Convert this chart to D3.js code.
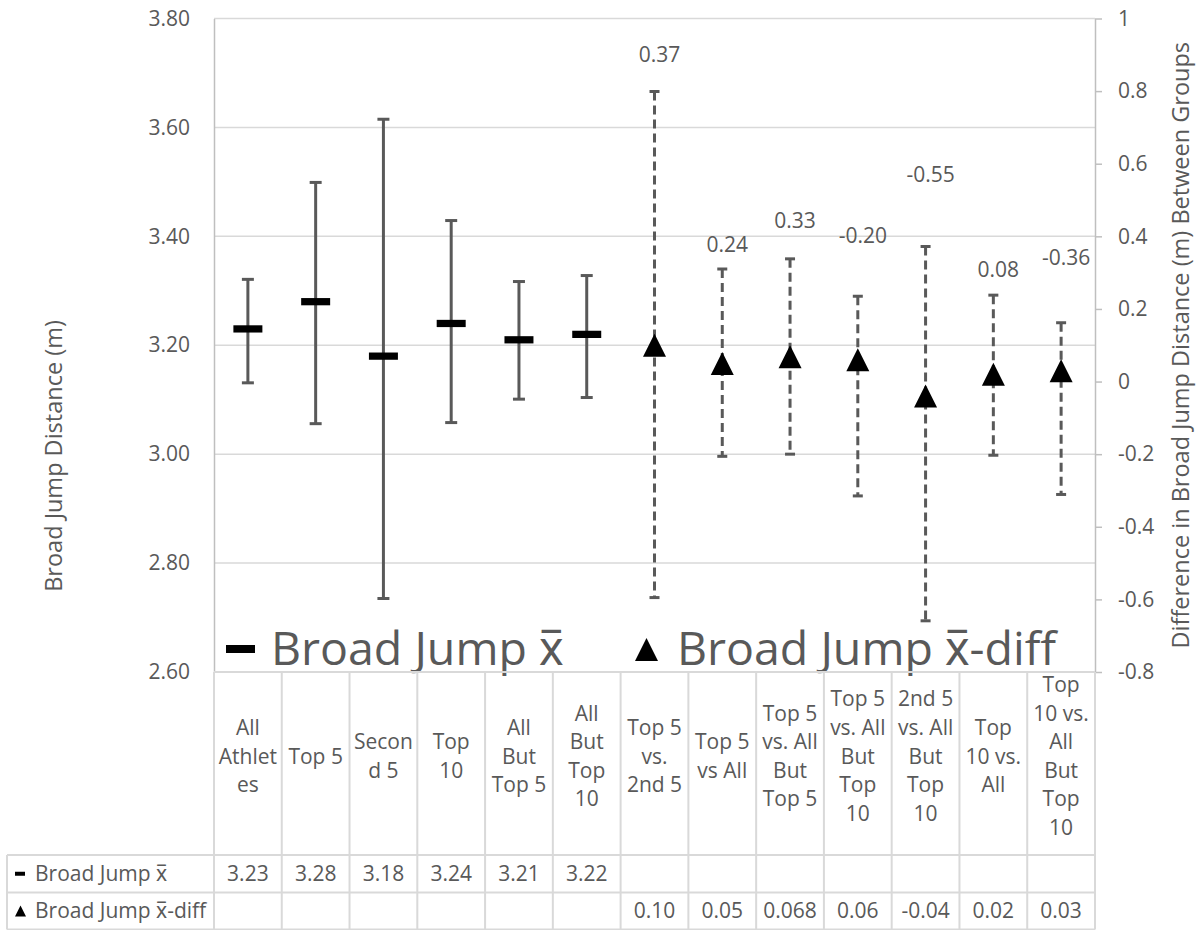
<!DOCTYPE html>
<html>
<head>
<meta charset="utf-8">
<script src="https://cdn.jsdelivr.net/npm/d3@7"></script>
<style>
  html, body { margin: 0; padding: 0; background: #fff; }
  svg { display: block; font-family: "Open Sans", "Noto Sans", sans-serif; }
</style>
</head>
<body>
<svg id="chart" width="1199" height="930"></svg>
<script>
// Group names, wrapped into lines as they appear in the table header
const categories = [
  ["All", "Athlet", "es"],
  ["Top 5"],
  ["Secon", "d 5"],
  ["Top", "10"],
  ["All", "But", "Top 5"],
  ["All", "But", "Top", "10"],
  ["Top 5", "vs.", "2nd 5"],
  ["Top 5", "vs All"],
  ["Top 5", "vs. All", "But", "Top 5"],
  ["Top 5", "vs. All", "But", "Top", "10"],
  ["2nd 5", "vs. All", "But", "Top", "10"],
  ["Top", "10 vs.", "All"],
  ["Top", "10 vs.", "All", "But", "Top", "10"]
];

// Broad jump means (left axis), first six groups, with error bar ends
const meanValues = [3.23, 3.28, 3.18, 3.24, 3.21, 3.22];
const meanLow    = [3.131, 3.056, 2.735, 3.058, 3.101, 3.104];
const meanHigh   = [3.321, 3.499, 3.615, 3.429, 3.317, 3.328];

// Mean differences between groups (right axis), last seven groups
const diffValues = [0.10, 0.05, 0.068, 0.06, -0.04, 0.02, 0.03];
const diffLow    = [-0.595, -0.206, -0.200, -0.315, -0.659, -0.203, -0.311];
const diffHigh   = [0.799, 0.310, 0.338, 0.235, 0.372, 0.238, 0.162];

// Annotations printed above each difference error bar, and where they sit (right-axis units)
const diffNotes      = [0.37, 0.24, 0.33, -0.20, -0.55, 0.08, -0.36];
const diffNoteAnchor = [0.901, 0.378, 0.444, 0.401, 0.571, 0.307, 0.341];

// Axis ticks
const leftTicks  = [2.6, 2.8, 3.0, 3.2, 3.4, 3.6, 3.8];
const rightTicks = [-0.8, -0.6, -0.4, -0.2, 0, 0.2, 0.4, 0.6, 0.8, 1];

const seriesNames = ["Broad Jump x\u0305", "Broad Jump x\u0305-diff"];
const leftTitle  = "Broad Jump Distance (m)";
const rightTitle = "Difference in Broad Jump Distance (m) Between Groups";

const TEXT = "#595959";
const GRID = "#d9d9d9";
const AXIS = "#bfbfbf";
const FONT = 21;
const TITLE_FONT = 23.5;
const LEGEND_FONT = 46.5;

// Plain hyphen for negative numbers
const locale = d3.formatLocale({ decimal: ".", thousands: ",", grouping: [3], currency: ["", ""], minus: "-" });
const f2 = locale.format(".2f");
const f1 = locale.format(".1f");

const svg = d3.select("#chart");

const plot = { left: 214, right: 1095, top: 18.5, bottom: 672 };
const table = { left: 7, headerBottom: 855, row1Bottom: 892.5, bottom: 929.5 };

const x = d3.scaleBand()
  .domain(d3.range(categories.length))
  .range([plot.left, plot.right])
  .paddingInner(0).paddingOuter(0);

const yL = d3.scaleLinear().domain([2.6, 3.8]).range([plot.bottom, plot.top]);
const yR = d3.scaleLinear().domain([-0.8, 1]).range([plot.bottom, plot.top]);

const cx = i => x(i) + x.bandwidth() / 2;
const nMean = meanValues.length;
const meanIdx = meanValues.map((_, i) => i);
const diffIdx = diffValues.map((_, i) => i + nMean);

// Horizontal gridlines
svg.append("g")
  .selectAll("line")
  .data(leftTicks)
  .join("line")
  .attr("x1", plot.left).attr("x2", plot.right)
  .attr("y1", d => yL(d)).attr("y2", d => yL(d))
  .attr("stroke", GRID).attr("stroke-width", 1.5);

// Left axis
const leftAxis = svg.append("g")
  .attr("transform", `translate(${plot.left},0)`)
  .call(d3.axisLeft(yL).tickValues(leftTicks).tickFormat(f2).tickSize(0).tickPadding(24));
leftAxis.select(".domain").attr("stroke", AXIS).attr("stroke-width", 1.5);
leftAxis.selectAll("text").attr("fill", TEXT).style("font-size", FONT + "px").style("font-family", "Open Sans");

// Right axis
const rightFmt = d => Number.isInteger(d) ? String(d) : f1(d);
const rightAxis = svg.append("g")
  .attr("transform", `translate(${plot.right},0)`)
  .call(d3.axisRight(yR).tickValues(rightTicks).tickFormat(rightFmt).tickSize(7).tickSizeOuter(0).tickPadding(16));
rightAxis.select(".domain").attr("stroke", AXIS).attr("stroke-width", 1.5);
rightAxis.selectAll(".tick line").attr("stroke", AXIS).attr("stroke-width", 1.5);
rightAxis.selectAll("text").attr("fill", TEXT).style("font-size", FONT + "px").style("font-family", "Open Sans");

// Axis titles
svg.append("text")
  .attr("transform", "translate(62,456) rotate(-90)")
  .attr("text-anchor", "middle")
  .attr("fill", TEXT).style("font-size", TITLE_FONT + "px")
  .text(leftTitle);

svg.append("text")
  .attr("transform", `translate(1189,${(plot.top + plot.bottom) / 2}) rotate(-90)`)
  .attr("text-anchor", "middle")
  .attr("fill", TEXT).style("font-size", TITLE_FONT + "px")
  .text(rightTitle);

// Marker shapes
const dashSymbol = {
  draw(ctx, size) {
    const w = Math.sqrt(size), h = w * 0.25;
    ctx.rect(-w / 2, -h / 2, w, h);
  }
};
const triSymbol = {
  draw(ctx, size) {
    const r = Math.sqrt(size) / 2;
    ctx.moveTo(0, -r);
    ctx.lineTo(r, r);
    ctx.lineTo(-r, r);
    ctx.closePath();
  }
};

// Error bars: means (solid)
const capW = 12;
const meanErr = svg.append("g").attr("stroke", TEXT).attr("stroke-width", 3);
meanErr.selectAll("line.bar")
  .data(meanIdx).join("line").attr("class", "bar")
  .attr("x1", cx).attr("x2", cx)
  .attr("y1", i => yL(meanHigh[i])).attr("y2", i => yL(meanLow[i]));
meanErr.selectAll("line.capTop")
  .data(meanIdx).join("line").attr("class", "capTop")
  .attr("x1", i => cx(i) - capW / 2).attr("x2", i => cx(i) + capW / 2)
  .attr("y1", i => yL(meanHigh[i])).attr("y2", i => yL(meanHigh[i]));
meanErr.selectAll("line.capBot")
  .data(meanIdx).join("line").attr("class", "capBot")
  .attr("x1", i => cx(i) - capW / 2).attr("x2", i => cx(i) + capW / 2)
  .attr("y1", i => yL(meanLow[i])).attr("y2", i => yL(meanLow[i]));

// Error bars: differences (dashed)
const diffErr = svg.append("g").attr("stroke", TEXT).attr("stroke-width", 3);
diffErr.selectAll("line.bar")
  .data(diffIdx).join("line").attr("class", "bar")
  .attr("x1", cx).attr("x2", cx)
  .attr("y1", i => yR(diffHigh[i - nMean]))
  .attr("y2", i => yR(diffLow[i - nMean]))
  .attr("stroke-dasharray", "9,5");
diffErr.selectAll("line.capTop")
  .data(diffIdx).join("line").attr("class", "capTop")
  .attr("x1", i => cx(i) - 5).attr("x2", i => cx(i) + 5)
  .attr("y1", i => yR(diffHigh[i - nMean]))
  .attr("y2", i => yR(diffHigh[i - nMean]));
diffErr.selectAll("line.capBot")
  .data(diffIdx).join("line").attr("class", "capBot")
  .attr("x1", i => cx(i) - 5).attr("x2", i => cx(i) + 5)
  .attr("y1", i => yR(diffLow[i - nMean]))
  .attr("y2", i => yR(diffLow[i - nMean]));

// Markers
svg.append("g").selectAll("path")
  .data(meanIdx).join("path")
  .attr("transform", i => `translate(${cx(i)},${yL(meanValues[i])})`)
  .attr("d", d3.symbol().type(dashSymbol).size(29 * 29))
  .attr("fill", "#000");

svg.append("g").selectAll("path")
  .data(diffIdx).join("path")
  .attr("transform", i => `translate(${cx(i)},${yR(diffValues[i - nMean])})`)
  .attr("d", d3.symbol().type(triSymbol).size(23 * 23))
  .attr("fill", "#000");

// Annotations above the difference bars
svg.append("g").selectAll("text")
  .data(diffIdx).join("text")
  .attr("x", i => cx(i) + 5)
  .attr("y", i => yR(diffNoteAnchor[i - nMean]))
  .attr("dy", "0.35em")
  .attr("text-anchor", "middle")
  .attr("fill", TEXT).style("font-size", FONT + "px")
  .text(i => f2(diffNotes[i - nMean]));

// Legend inside the plot
const legend = svg.append("g");
legend.append("rect")
  .attr("x", 226).attr("y", 645).attr("width", 29).attr("height", 8)
  .attr("fill", "#000");
legend.append("text")
  .attr("x", 271).attr("y", 665)
  .attr("fill", TEXT).style("font-size", LEGEND_FONT + "px")
  .text(seriesNames[0]);
legend.append("path")
  .attr("transform", "translate(646.5,649.5)")
  .attr("d", d3.symbol().type(triSymbol).size(23 * 23))
  .attr("fill", "#000");
legend.append("text")
  .attr("x", 677).attr("y", 665)
  .attr("fill", TEXT).style("font-size", LEGEND_FONT + "px")
  .text(seriesNames[1]);

// Data table beneath the plot
const tbl = svg.append("g").attr("stroke", GRID).attr("stroke-width", 2);
tbl.selectAll("line.col")
  .data(d3.range(categories.length + 1)).join("line").attr("class", "col")
  .attr("x1", i => i < categories.length ? x(i) : plot.right)
  .attr("x2", i => i < categories.length ? x(i) : plot.right)
  .attr("y1", plot.bottom).attr("y2", table.bottom);
tbl.selectAll("line.row")
  .data([plot.bottom, table.headerBottom, table.row1Bottom, table.bottom]).join("line").attr("class", "row")
  .attr("x1", (d, i) => i === 0 ? plot.left : table.left)
  .attr("x2", plot.right)
  .attr("y1", d => d).attr("y2", d => d);
tbl.append("line")
  .attr("x1", table.left).attr("x2", table.left)
  .attr("y1", table.headerBottom).attr("y2", table.bottom);

// Header cells (wrapped category names, vertically centred)
const lineH = 28.6;
const headerMid = (plot.bottom + table.headerBottom) / 2;
const header = svg.append("g")
  .attr("fill", TEXT).style("font-size", FONT + "px").attr("text-anchor", "middle");
header.selectAll("text")
  .data(categories.map((lines, i) => ({ lines, i }))).join("text")
  .attr("x", d => cx(d.i))
  .attr("y", d => headerMid - (d.lines.length - 1) * lineH / 2)
  .attr("dy", "0.35em")
  .selectAll("tspan")
  .data(d => d.lines.map(t => ({ t, x: cx(d.i) }))).join("tspan")
  .attr("x", d => d.x)
  .attr("dy", (d, k) => k === 0 ? 0 : lineH)
  .text(d => d.t);

// Value rows
const fmtVal = d => {
  const dec = (String(d).split(".")[1] || "").length;
  return locale.format(`.${Math.max(2, dec)}f`)(d);
};
const row1Mid = (table.headerBottom + table.row1Bottom) / 2;
const row2Mid = (table.row1Bottom + table.bottom) / 2;
const vals = svg.append("g").attr("fill", TEXT).style("font-size", FONT + "px").attr("text-anchor", "middle");
vals.selectAll("text.m")
  .data(meanIdx).join("text").attr("class", "m")
  .attr("x", cx).attr("y", row1Mid).attr("dy", "0.35em")
  .text(i => fmtVal(meanValues[i]));
vals.selectAll("text.d")
  .data(diffIdx).join("text").attr("class", "d")
  .attr("x", cx).attr("y", row2Mid).attr("dy", "0.35em")
  .text(i => fmtVal(diffValues[i - nMean]));

// Series-name cells with their keys
const names = svg.append("g");
names.append("rect")
  .attr("x", 15).attr("y", row1Mid - 2).attr("width", 10).attr("height", 4)
  .attr("fill", "#000");
names.append("path")
  .attr("transform", `translate(20.5,${row2Mid})`)
  .attr("d", d3.symbol().type(triSymbol).size(11 * 11))
  .attr("fill", "#000");
names.selectAll("text")
  .data(seriesNames).join("text")
  .attr("x", 35)
  .attr("y", (d, i) => i === 0 ? row1Mid : row2Mid)
  .attr("dy", "0.35em")
  .attr("fill", TEXT).style("font-size", FONT + "px")
  .text(d => d);
</script>
</body>
</html>
